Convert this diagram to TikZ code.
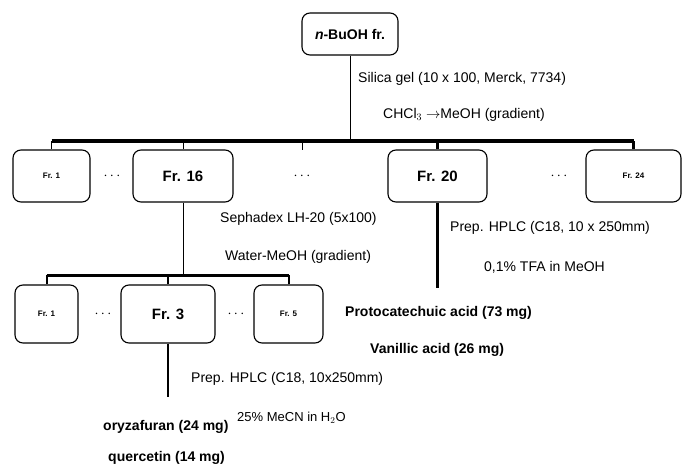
\documentclass[tikz,border=0pt]{standalone}
\usepackage{fontspec}
\setmainfont{Liberation Sans}
\begin{document}
\begin{tikzpicture}[x=1pt,y=-1pt,
  box/.style={draw,line width=1.1pt,rounded corners=8pt,inner sep=0pt,font=\bfseries\fontsize{15}{17}\selectfont},
  sbox/.style={box,font=\bfseries\fontsize{8}{9}\selectfont},
  lab/.style={anchor=west,inner sep=0pt,font=\fontsize{14}{16}\selectfont},
  blab/.style={anchor=west,inner sep=0pt,font=\bfseries\fontsize{14}{16}\selectfont},
  dots/.style={inner sep=0pt,font=\fontsize{14}{16}\selectfont},
  bar/.style={line width=3.6pt},
  barb/.style={line width=3pt},
  thickline/.style={line width=3pt},
  midline/.style={line width=2pt},
  thinline/.style={line width=1pt}]
\useasboundingbox (0,0) rectangle (682,470);
% top
\node[box,font=\bfseries\fontsize{14}{16}\selectfont,minimum width=96pt,minimum height=42pt] (top) at (350,34) {\textit{n}-BuOH fr.};
\node[lab] (l1) at (358,79) {Silica gel (10 x 100, Merck, 7734)};
\node[lab] (l2) at (383,115) {CHCl$_3$ $\rightarrow$MeOH (gradient)};
% row 1
\node[sbox,minimum width=77pt,minimum height=52pt] (a1) at (51.5,176) {Fr. 1};
\node[box,minimum width=100pt,minimum height=52pt] (a16) at (183,176) {Fr. 16};
\node[box,minimum width=99pt,minimum height=52pt] (a20) at (437.5,176) {Fr. 20};
\node[sbox,minimum width=95pt,minimum height=52pt] (a24) at (633.5,176) {Fr. 24};
\node[dots] (d1) at (112,176) {$\cdots$};
\node[dots] (d2) at (302,176) {$\cdots$};
\node[dots] (d3) at (559,176) {$\cdots$};
\coordinate (bar1) at (0,141);
\coordinate (tick) at (302,150);
\draw[thinline] (top.south) -- (top.south |- bar1);
\draw[bar] (a1.north |- bar1) -- (a24.north |- bar1);
\draw[thinline] (a1.north) -- (a1.north |- bar1);
\draw[thinline] (a16.north) -- (a16.north |- bar1);
\draw[thickline] (a20.north) -- (a20.north |- bar1);
\draw[thickline] (a24.north) -- (a24.north |- bar1);
\draw[thinline] (tick) -- (tick |- bar1);
% Fr.16 branch
\node[lab] (l3) at (220,219) {Sephadex LH-20 (5x100)};
\node[lab] (l4) at (225,257) {Water-MeOH (gradient)};
% Fr.20 branch
\coordinate (e20) at (437.5,288);
\draw[thickline] (a20.south) -- (e20);
\node[lab] (l5) at (450,228) {Prep. HPLC (C18, 10 x 250mm)};
\node[lab] (l6) at (484,267) {0,1\% TFA in MeOH};
\node[blab] (p1) at (345,313) {Protocatechuic acid (73 mg)};
\node[blab] (p2) at (370,350) {Vanillic acid (26 mg)};
% row 2
\node[sbox,minimum width=63pt,minimum height=58pt] (b1) at (46.5,314) {Fr. 1};
\node[box,minimum width=94pt,minimum height=58pt] (b3) at (168,314) {Fr. 3};
\node[sbox,minimum width=69pt,minimum height=58pt] (b5) at (288.5,314) {Fr. 5};
\node[dots] (d4) at (103,314) {$\cdots$};
\node[dots] (d5) at (236,314) {$\cdots$};
\coordinate (bar2) at (0,275);
\draw[thinline] (a16.south) -- (a16.south |- bar2);
\draw[barb] (b1.north |- bar2) -- (b5.north |- bar2);
\draw[midline] (b1.north) -- (b1.north |- bar2);
\draw[midline] (b3.north) -- (b3.north |- bar2);
\draw[midline] (b5.north) -- (b5.north |- bar2);
% Fr.3 branch
\coordinate (e3) at (168,397);
\draw[midline] (b3.south) -- (e3);
\node[lab] (l7) at (191,379) {Prep. HPLC (C18, 10x250mm)};
\node[blab] (o1) at (103,427) {oryzafuran (24 mg)};
\node[lab,font=\fontsize{13}{15}\selectfont] (l8) at (237,418) {25\% MeCN in H$_2$O};
\node[blab] (o2) at (108,458) {quercetin (14 mg)};
\end{tikzpicture}
\end{document}
